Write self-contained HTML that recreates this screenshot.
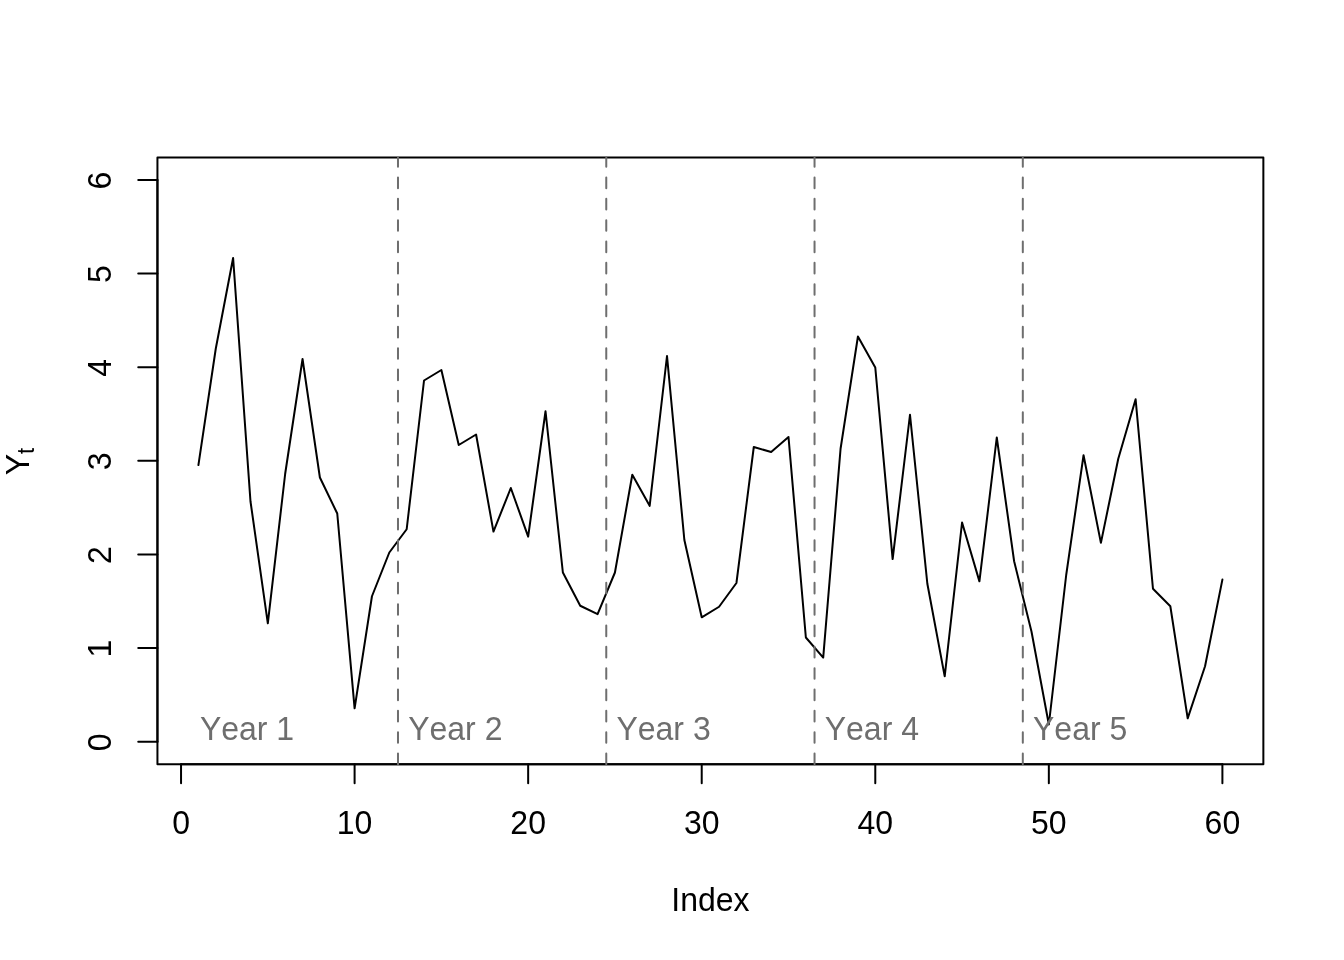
<!DOCTYPE html>
<html lang="en"><head><meta charset="utf-8"><title>Y_t by Index</title>
<style>
html,body{margin:0;padding:0;background:#fff;}
body{width:1344px;height:960px;overflow:hidden;}
svg{display:block;}
text{font-kerning:none;font-family:"Liberation Sans",Arial,Helvetica,sans-serif;font-size:32px;fill:#000;}
.g{fill:#6e6e6e;}
</style></head><body>
<svg width="1344" height="960" viewBox="0 0 1344 960">
<rect width="1344" height="960" fill="#fff"/>
<polyline points="198.40,465.10 215.76,348.75 233.11,258.00 250.47,501.25 267.82,623.35 285.18,473.75 302.54,359.00 319.89,477.50 337.25,513.50 354.60,708.35 371.96,596.25 389.32,552.50 406.67,529.25 424.03,380.50 441.38,370.00 458.74,445.00 476.09,434.50 493.45,531.60 510.81,488.00 528.16,536.60 545.52,411.25 562.87,572.50 580.23,605.75 597.59,614.10 614.94,572.50 632.30,474.75 649.65,505.85 667.01,356.00 684.37,540.00 701.72,617.30 719.08,606.75 736.43,583.00 753.79,447.00 771.15,452.00 788.50,437.00 805.86,637.50 823.21,657.60 840.57,448.75 857.93,336.50 875.28,367.50 892.64,559.10 909.99,414.75 927.35,583.75 944.71,676.35 962.06,522.50 979.42,581.35 996.77,437.50 1014.13,561.25 1031.48,631.50 1048.84,724.50 1066.20,575.00 1083.55,455.25 1100.91,542.85 1118.26,458.75 1135.62,399.25 1152.98,588.75 1170.33,606.25 1187.69,718.35 1205.04,666.25 1222.40,579.60" fill="none" stroke="#000" stroke-width="2" stroke-linejoin="round" stroke-linecap="round"/>
<g stroke="#000" stroke-width="2" stroke-linecap="round">
<line x1="181.04" y1="764.16" x2="181.04" y2="783.36"/>
<line x1="354.60" y1="764.16" x2="354.60" y2="783.36"/>
<line x1="528.16" y1="764.16" x2="528.16" y2="783.36"/>
<line x1="701.72" y1="764.16" x2="701.72" y2="783.36"/>
<line x1="875.28" y1="764.16" x2="875.28" y2="783.36"/>
<line x1="1048.84" y1="764.16" x2="1048.84" y2="783.36"/>
<line x1="1222.40" y1="764.16" x2="1222.40" y2="783.36"/>
<line x1="157.44" y1="741.69" x2="138.24" y2="741.69"/>
<line x1="157.44" y1="648.06" x2="138.24" y2="648.06"/>
<line x1="157.44" y1="554.43" x2="138.24" y2="554.43"/>
<line x1="157.44" y1="460.80" x2="138.24" y2="460.80"/>
<line x1="157.44" y1="367.17" x2="138.24" y2="367.17"/>
<line x1="157.44" y1="273.54" x2="138.24" y2="273.54"/>
<line x1="157.44" y1="179.91" x2="138.24" y2="179.91"/>
<line x1="181.04" y1="764.16" x2="1222.40" y2="764.16"/>
<line x1="157.44" y1="741.69" x2="157.44" y2="179.91"/>
</g>
<rect x="157.44" y="157.44" width="1105.92" height="606.72" fill="none" stroke="#000" stroke-width="2" stroke-linejoin="round"/>
<text transform="translate(181.04,833.8) scale(1,1.03)" text-anchor="middle">0</text>
<text transform="translate(354.60,833.8) scale(1,1.03)" text-anchor="middle">10</text>
<text transform="translate(528.16,833.8) scale(1,1.03)" text-anchor="middle">20</text>
<text transform="translate(701.72,833.8) scale(1,1.03)" text-anchor="middle">30</text>
<text transform="translate(875.28,833.8) scale(1,1.03)" text-anchor="middle">40</text>
<text transform="translate(1048.84,833.8) scale(1,1.03)" text-anchor="middle">50</text>
<text transform="translate(1222.40,833.8) scale(1,1.03)" text-anchor="middle">60</text>
<text transform="translate(111.36,742.29) rotate(-90) scale(1,1.03)" text-anchor="middle">0</text>
<text transform="translate(111.36,648.66) rotate(-90) scale(1,1.03)" text-anchor="middle">1</text>
<text transform="translate(111.36,555.03) rotate(-90) scale(1,1.03)" text-anchor="middle">2</text>
<text transform="translate(111.36,461.40) rotate(-90) scale(1,1.03)" text-anchor="middle">3</text>
<text transform="translate(111.36,367.77) rotate(-90) scale(1,1.03)" text-anchor="middle">4</text>
<text transform="translate(111.36,274.14) rotate(-90) scale(1,1.03)" text-anchor="middle">5</text>
<text transform="translate(111.36,180.51) rotate(-90) scale(1,1.03)" text-anchor="middle">6</text>
<text transform="translate(710.40,910.8) scale(1,1.03)" text-anchor="middle">Index</text>
<text transform="translate(28.5,475.3) rotate(-90) scale(1,1.03)">Y<tspan font-size="22.4px" dy="5.5">t</tspan></text>
<line x1="397.99" y1="764.16" x2="397.99" y2="157.44" stroke="#6e6e6e" stroke-width="2" stroke-linecap="round" stroke-dasharray="10.667 10.667"/>
<line x1="606.26" y1="764.16" x2="606.26" y2="157.44" stroke="#6e6e6e" stroke-width="2" stroke-linecap="round" stroke-dasharray="10.667 10.667"/>
<line x1="814.54" y1="764.16" x2="814.54" y2="157.44" stroke="#6e6e6e" stroke-width="2" stroke-linecap="round" stroke-dasharray="10.667 10.667"/>
<line x1="1022.81" y1="764.16" x2="1022.81" y2="157.44" stroke="#6e6e6e" stroke-width="2" stroke-linecap="round" stroke-dasharray="10.667 10.667"/>
<text class="g" transform="translate(199.92,739.8) scale(1,1.03)">Year 1</text>
<text class="g" transform="translate(408.19,739.8) scale(1,1.03)">Year 2</text>
<text class="g" transform="translate(616.46,739.8) scale(1,1.03)">Year 3</text>
<text class="g" transform="translate(824.74,739.8) scale(1,1.03)">Year 4</text>
<text class="g" transform="translate(1033.01,739.8) scale(1,1.03)">Year 5</text>
</svg>
</body></html>
